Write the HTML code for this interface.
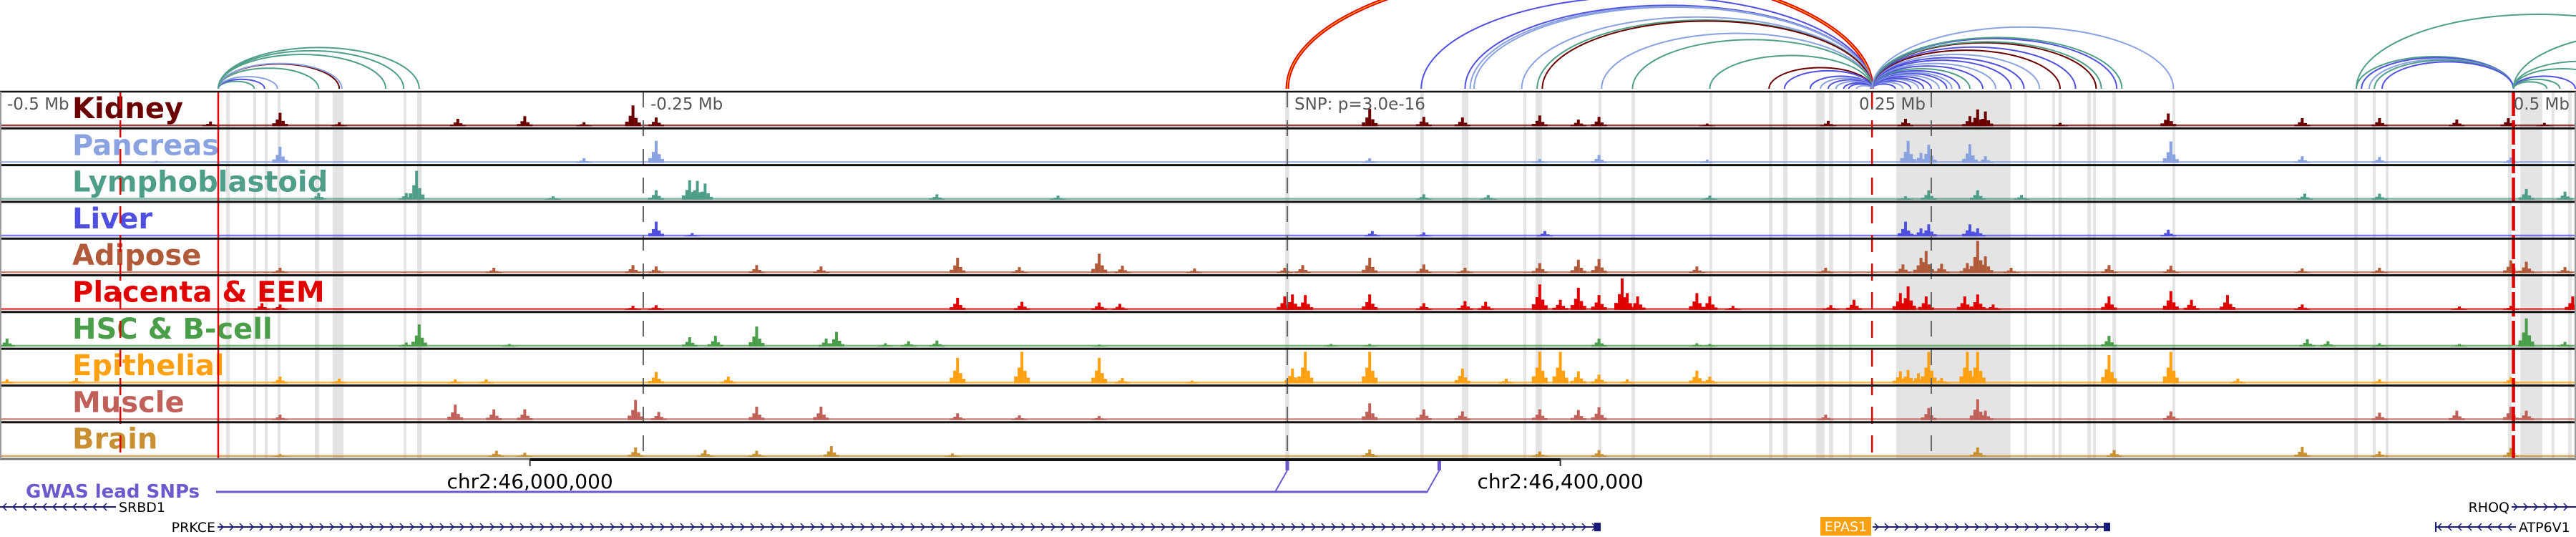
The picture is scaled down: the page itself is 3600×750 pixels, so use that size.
<!DOCTYPE html>
<html><head><meta charset="utf-8">
<style>
html,body{margin:0;padding:0;background:#fff;}
svg{display:block;}
</style></head>
<body>
<svg id="chart" width="3600" height="750" viewBox="0 0 3600 750" xmlns="http://www.w3.org/2000/svg"></svg>
<script>
// ---------- data ----------
const trackNames = ["Kidney","Pancreas","Lymphoblastoid","Liver","Adipose","Placenta & EEM","HSC & B-cell","Epithelial","Muscle","Brain"];
const trackColors = ["#6b0000","#8aa2e0","#4f9e8a","#5050e0","#b05a3a","#e00000","#4a9e4a","#ffa010","#c06058","#c89030"];

const kidneyPos = [-418,-391,-368,-322,-296,-273,-254,-245,32,53,68,98,113,121,163,210,240,265,268,271,300,342,394,424,454,474,488];
const kidneyVal = [7,20,6,11,15,6,31,13,26,14,13,16,10,14,4,8,11,15,25,22,5,19,12,12,10,12,5];
const pancreasPos = [-439,-391,-273,-245,32,98,121,163,241,246,249,265,271,343,394,424,475];
const pancreasVal = [3,24,7,33,7,6,12,5,33,15,27,28,10,32,10,9,8];
const lymphPos = [-376,-342,-338,-285,-245,-232,-229,-226,-136,-89,53,78,164,240,249,268,285,395,424,481,496];
const lymphVal = [10,10,43,5,14,29,28,24,8,6,8,7,6,5,14,14,7,9,9,16,12];
const liverPos = [-245,-231,33,53,100,240,246,249,265,268,342];
const liverVal = [22,5,8,6,8,22,12,18,18,12,10];
const adiposePos = [-391,-308,-254,-245,-206,-181,-128,-104,-73,-64,-36,-1,6,32,53,69,98,113,121,159,209,239,246,248,254,264,268,271,281,319,343,394,424,475,481,496];
const adiposeVal = [8,8,12,10,12,10,23,9,29,11,7,8,12,23,13,8,15,20,21,10,8,13,23,33,14,15,48,25,8,12,11,7,8,19,17,9];
const placentaPos = [-398,-391,-254,-245,-128,-103,-73,-65,-1,2,7,32,53,69,77,98,106,113,121,130,132,136,159,164,173,211,220,238,241,248,263,268,274,319,343,351,365,394,455,475,499];
const placentaVal = [10,8,6,7,18,12,11,9,20,23,22,23,10,13,12,38,15,33,22,47,25,20,25,20,6,7,15,25,35,20,20,23,8,20,28,15,22,8,5,6,20];
const hscPos = [-497,-342,-337,-302,-232,-222,-206,-179,-175,-156,-147,-136,-73,17,32,121,159,164,319,396,404,424,455,481,496];
const hscVal = [12,6,33,4,14,16,30,12,22,5,8,9,3,4,4,12,5,4,16,11,8,5,4,42,7];
const epithelialPos = [-497,-470,-391,-368,-323,-311,-245,-217,-128,-103,-73,-64,-37,2,7,32,68,85,98,106,113,121,132,159,164,238,241,245,249,254,264,268,319,343,369,424,475];
const epithelialVal = [6,8,10,7,6,6,17,10,38,47,38,8,4,22,47,47,22,7,47,47,18,13,6,19,10,18,20,15,47,8,47,47,42,47,7,6,9];
const musclePos = [-391,-323,-308,-296,-253,-244,-206,-181,-128,-104,-73,32,53,68,98,113,121,209,249,268,271,343,424,454,475,481];
const muscleVal = [8,23,16,16,30,12,20,20,10,7,6,25,16,13,16,15,19,8,18,31,14,13,11,14,20,14];
const brainPos = [-391,-307,-296,-253,-226,-206,-177,-130,32,98,121,268,321,394,424,475];
const brainVal = [4,9,6,14,10,9,16,5,11,8,10,14,10,15,8,13];

const trackPos = [kidneyPos,pancreasPos,lymphPos,liverPos,adiposePos,placentaPos,hscPos,epithelialPos,musclePos,brainPos];
const trackVal = [kidneyVal,pancreasVal,lymphVal,liverVal,adiposeVal,placentaVal,hscVal,epithelialVal,muscleVal,brainVal];

const bandStart = [-412,-401.4,-397,-392,-377.5,-370.6,-343,-337.8,-0.8,51.7,67.8,91.7,96.4,120.8,133.6,163.9,187,192.5,205.3,210.3,218,236.4,286.1,297,299.4,310.6,312.8,320.3,343.6,414.2,421.4,426.4,473.9,478.6,490.8,497.2];
const bandEnd   = [-410.5,-400.3,-395.8,-390.8,-375.8,-366.4,-342,-336,0.8,53,70.3,92.8,98.9,121.9,135,165,188.3,194.2,208.6,211.9,219.2,280.8,287.2,298,300.6,312,313.9,321.7,344.7,415.6,422.5,427.5,475.3,487.2,491.9,498.6];

const arcColors = ["#6b0000","#8aa2e0","#4f9e8a","#5050e0"];
const arcStart = [-415,-415,-415,-415,-415,-415,-415,-415,-415,
  0,52,69,71,72.5,91,97,99,122,134,164,187,193,203,207,210,213,216,218,221,
  227,227,227,227,227,227,227,227,227,227,227,227,227,227,227,227,227,227,227,227,227,227,227,
  415,417,420,422,425,415,476,476,476,476,476,476];
const arcEnd = [-401,-397,-392,-376,-368,-367,-343,-337,-350,
  227,227,227,227,227,227,227,227,227,227,227,227,227,227,227,227,227,227,227,227,
  236,239,242,245,247,250,253,256,258,261,265,270,275,281,286,292,300,306,314,316,322,324,344,
  476,476,476,476,476,556,489,494,500,514,528,584];
const arcColor = [2,3,1,2,0,1,2,2,2,
  -1,3,3,1,1,1,2,0,1,2,2,0,3,3,1,3,1,3,3,1,
  3,1,3,1,3,3,1,3,1,3,2,3,1,3,3,1,0,3,0,2,3,2,1,
  2,3,1,2,3,2,2,2,3,2,2,2];

// ---------- helpers ----------
const svg = document.getElementById('chart');
const NS = "http://www.w3.org/2000/svg";
function mk(tag, attrs, parent){ const e=document.createElementNS(NS,tag); for(const k in attrs) e.setAttribute(k,attrs[k]); (parent||svg).appendChild(e); return e; }
const xScale = kb => 1799 + kb*3.6;
const TOP = 128, TH = 51.3;
const trackTop = i => TOP + i*TH;
const yScale = v => v/48*45;

// ---------- arcs ----------
const arcG = mk('g',{});


const AY = 124;
for(let i=0;i<arcStart.length;i++){
  const x1=xScale(arcStart[i]), x2=xScale(arcEnd[i]);
  const w=Math.abs(x2-x1), rx=w/2, ry=0.205*w;
  const d=`M ${Math.min(x1,x2)} ${AY} A ${rx} ${ry} 0 0 1 ${Math.max(x1,x2)} ${AY}`;
  if(arcColor[i]<0){
    const a=mk('path',{d:d,fill:'none',stroke:'#e00000','stroke-width':5},arcG);
    
    
    mk('path',{d:d,fill:'none',stroke:'#ffa010','stroke-width':1.5},arcG);
  } else {
    const a=mk('path',{d:d,fill:'none',stroke:arcColors[arcColor[i]],'stroke-width':2},arcG);
    
    
  }
}

// ---------- bands ----------
for(let i=0;i<bandStart.length;i++){
  const x=xScale(bandStart[i]), w=Math.max(3,xScale(bandEnd[i])-x);
  const r=mk('rect',{x:x,y:TOP,width:w,height:TH*10,fill:'#e4e4e4'});
  
  
}

// ---------- tracks ----------
for(let t=0;t<10;t++){
  const g=mk('g',{});
  
  
  const base=trackTop(t)+TH-3;
  const col=trackColors[t];
  mk('rect',{x:0,y:base-2.5,width:3600,height:2.5,fill:col,opacity:0.75},g);
  const pos=trackPos[t], val=trackVal[t];
  for(let i=0;i<pos.length;i++){
    const x=xScale(pos[i]), h=yScale(val[i]);
    const b=mk('rect',{x:x-2,y:base-h,width:4,height:h,fill:col},g);
    
    
    mk('rect',{x:x-6,y:base-h*0.5,width:4.5,height:h*0.5,fill:col},g);
    mk('rect',{x:x+2,y:base-h*0.4,width:4.5,height:h*0.4,fill:col},g);
    mk('rect',{x:x-11,y:base-h*0.22,width:5,height:h*0.22,fill:col},g);
    mk('rect',{x:x+6,y:base-h*0.18,width:5,height:h*0.18,fill:col},g);
  }
  const lab=mk('text',{x:101,y:trackTop(t)+37,fill:col,'font-family':'"DejaVu Sans","Liberation Sans",sans-serif','font-weight':'bold','font-size':40},g);
  lab.textContent=trackNames[t];
  
  
}

// ---------- reference lines ----------
const tickKb = [-250,0,250];
for(const k of tickKb){
  const l=mk('line',{x1:xScale(k),y1:TOP,x2:xScale(k),y2:TOP+TH*10,stroke:'#666','stroke-width':2,'stroke-dasharray':'22,18'});
  
  
}
const redDashedKb = [-453,227];
for(const k of redDashedKb){
  const l=mk('line',{x1:xScale(k),y1:TOP,x2:xScale(k),y2:TOP+TH*10,stroke:'#e00000','stroke-width':2.5,'stroke-dasharray':'24,16'});
  
  
}
const redSolidKb = [-415];
for(const k of redSolidKb){
  const l=mk('line',{x1:xScale(k),y1:TOP,x2:xScale(k),y2:TOP+TH*10,stroke:'#e00000','stroke-width':2.5});
  
  
}
{
  const l=mk('line',{x1:xScale(476),y1:TOP,x2:xScale(476),y2:TOP+TH*10,stroke:'#e00000','stroke-width':4.5,'stroke-dasharray':'34,6'});
  
  
}

for(let t=0;t<=10;t++){
  const l=mk('line',{x1:0,y1:trackTop(t),x2:3600,y2:trackTop(t),stroke:t===10?'#777':'#111','stroke-width':t===0?2.5:3});
  
  
}
mk('line',{x1:1,y1:TOP,x2:1,y2:TOP+TH*10,stroke:'#999','stroke-width':2});
mk('line',{x1:3599,y1:TOP,x2:3599,y2:TOP+TH*10,stroke:'#999','stroke-width':2});

const tickLabels = ["-0.5 Mb","-0.25 Mb","SNP: p=3.0e-16","0.25 Mb","0.5 Mb"];
const tickLabelKb = [-500,-250,0,250,500];
const tickAnchor = ["start","start","start","end","end"];
for(let i=0;i<tickLabels.length;i++){
  let x=xScale(tickLabelKb[i]);
  x = tickAnchor[i]==='start' ? Math.max(x,0)+10 : Math.min(x,3600)-8;
  const tx=mk('text',{x:x,y:153,fill:'#555','font-family':'"DejaVu Sans","Liberation Sans",sans-serif','font-size':23,'text-anchor':tickAnchor[i]});
  tx.textContent=tickLabels[i];
  
  
}

// ---------- ruler ----------
const rulerY = 641;
mk('rect',{x:xScale(-294),y:rulerY-1,width:xScale(106)-xScale(-294),height:4,fill:'#111'});
const rulerTicksKb=[-294,106];
const rulerLabels=["chr2:46,000,000","chr2:46,400,000"];
for(let i=0;i<2;i++){
  const x=xScale(rulerTicksKb[i]);
  mk('line',{x1:x,y1:rulerY,x2:x,y2:rulerY+10,stroke:'#333','stroke-width':2});
  const tx=mk('text',{x:x,y:682,fill:'#000','font-family':'"DejaVu Sans","Liberation Sans",sans-serif','font-size':28,'text-anchor':'middle'});
  tx.textContent=rulerLabels[i];
  
  
}

// ---------- GWAS ----------
const gwasKb=[0,59];
{
  const tx=mk('text',{x:36,y:695,fill:'#6a5acd','font-family':'"DejaVu Sans","Liberation Sans",sans-serif','font-weight':'bold','font-size':26});
  tx.textContent='GWAS lead SNPs';
  
  
  const ly=687;
  mk('line',{x1:302,y1:ly,x2:xScale(gwasKb[1])-16,y2:ly,stroke:'#6a5acd','stroke-width':3});
  for(const k of gwasKb){
    const x=xScale(k);
    mk('line',{x1:x-17,y1:ly,x2:x,y2:657,stroke:'#6a5acd','stroke-width':2});
    const m=mk('rect',{x:x-2.5,y:644,width:5,height:13,fill:'#6a5acd'});
    
    
  }
}

// ---------- genes ----------
function gene(name,x1,x2,y,dir,label,labelSide,endBlock){
  const g=mk('g',{});
  
  
  mk('line',{x1:x1,y1:y,x2:x2,y2:y,stroke:'#1a1a7a','stroke-width':2},g);
  let d='';
  for(let x=x1+6;x<x2-4;x+=14){
    d+= dir>0 ? `M ${x-3} ${y-5} L ${x+2} ${y} L ${x-3} ${y+5} ` : `M ${x+3} ${y-5} L ${x-2} ${y} L ${x+3} ${y+5} `;
  }
  mk('path',{d:d,fill:'none',stroke:'#1a1a7a','stroke-width':1.5},g);
  if(endBlock) mk('rect',{x:x2-8,y:y-6,width:9,height:12,fill:'#1a1a7a'},g);
  if(label){
    const t=mk('text',{x:labelSide==='left'?x1-3:x2+4,y:y+7,fill:'#000','font-family':'"DejaVu Sans","Liberation Sans",sans-serif','font-size':19,'text-anchor':labelSide==='left'?'end':'start'},g);
    t.textContent=name;
  }
}
gene('SRBD1',0,162,708,-1,true,'right',false);
gene('PRKCE',304,2236,736,1,true,'left',true);
gene('EPAS1',2617,2948,736,1,false,'',true);
gene('RHOQ',3510,3600,708,1,true,'left',false);
gene('ATP6V1',3403,3516,736,-1,true,'right',false);
mk('rect',{x:3403,y:729,width:2,height:14,fill:'#1a1a7a'});
{
  const b=mk('rect',{x:2544,y:722,width:71,height:26,fill:'#ffa010'});
  
  
  const t=mk('text',{x:2579.5,y:742,fill:'#fff','font-family':'"DejaVu Sans","Liberation Sans",sans-serif','font-size':19,'text-anchor':'middle'});
  t.textContent='EPAS1';
  
  
}
</script>
</body></html>
